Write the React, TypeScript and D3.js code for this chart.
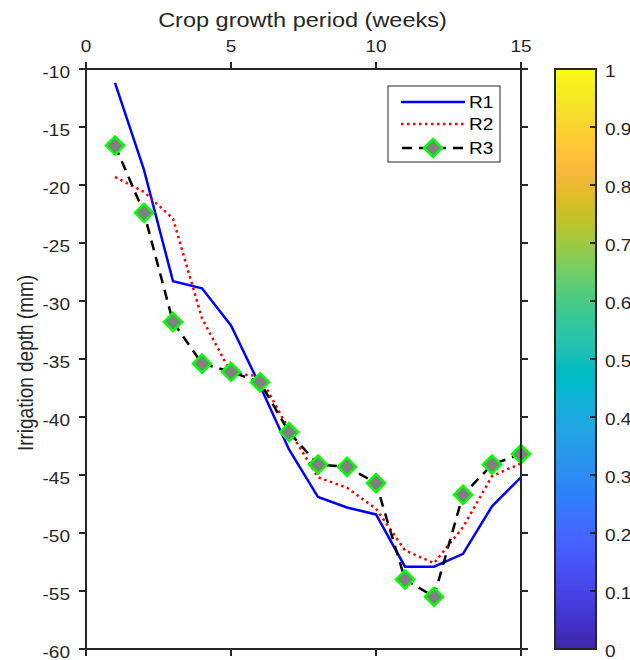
import React from "react";
import * as d3 from "d3";

const weeks = [1, 2, 3, 4, 5, 6, 7, 8, 9, 10, 11, 12, 13, 14, 15];
const r1 = [-11.2, -18.7, -28.3, -28.9, -32.1, -37.3, -42.8, -46.9, -47.8, -48.4, -52.9, -52.9, -51.8, -47.7, -45.2];
const r2 = [-19.3, -20.6, -22.9, -31.5, -36.2, -36.5, -41.1, -45.2, -46.1, -47.9, -51.5, -52.6, -49.5, -45.1, -44.0];
const r3 = [-16.6, -22.4, -31.8, -35.4, -36.1, -37.0, -41.3, -44.1, -44.3, -45.7, -54.0, -55.5, -46.7, -44.1, -43.2];
const xTicks = [0, 5, 10, 15];
const yTicks = [-10, -15, -20, -25, -30, -35, -40, -45, -50, -55, -60];
const cbTicks = [0, 0.1, 0.2, 0.3, 0.4, 0.5, 0.6, 0.7, 0.8, 0.9, 1];
const seriesNames = ["R1", "R2", "R3"];

const parula: number[][] = [
  [0.2422, 0.1504, 0.6603], [0.2504, 0.165, 0.7076], [0.2578, 0.1818, 0.7511], [0.2647, 0.1978, 0.7952],
  [0.2706, 0.2147, 0.8364], [0.2751, 0.2342, 0.871], [0.2783, 0.2559, 0.8991], [0.2803, 0.2782, 0.9221],
  [0.2813, 0.3006, 0.9414], [0.281, 0.3228, 0.9579], [0.2795, 0.3447, 0.9717], [0.276, 0.3667, 0.9829],
  [0.2699, 0.3892, 0.9906], [0.2602, 0.4123, 0.9952], [0.244, 0.4358, 0.9988], [0.2206, 0.4603, 0.9973],
  [0.1963, 0.4847, 0.9892], [0.1834, 0.5074, 0.9798], [0.1786, 0.5289, 0.9682], [0.1764, 0.5499, 0.952],
  [0.1687, 0.5703, 0.9359], [0.154, 0.5902, 0.9218], [0.146, 0.6091, 0.9079], [0.138, 0.6276, 0.8973],
  [0.1248, 0.6459, 0.8883], [0.1113, 0.6635, 0.8763], [0.0952, 0.6798, 0.8598], [0.0689, 0.6948, 0.8394],
  [0.0297, 0.7082, 0.8163], [0.0036, 0.7203, 0.7917], [0.0067, 0.7312, 0.766], [0.0433, 0.7411, 0.7394],
  [0.0964, 0.75, 0.712], [0.1408, 0.7584, 0.6842], [0.1717, 0.767, 0.6554], [0.1938, 0.7758, 0.6251],
  [0.2161, 0.7843, 0.5923], [0.247, 0.7918, 0.5567], [0.2906, 0.7973, 0.5188], [0.3406, 0.8008, 0.4789],
  [0.3909, 0.8029, 0.4354], [0.4456, 0.8024, 0.3909], [0.5044, 0.7993, 0.348], [0.5616, 0.7942, 0.3045],
  [0.6174, 0.7876, 0.2612], [0.672, 0.7793, 0.2227], [0.7242, 0.7698, 0.191], [0.7738, 0.7598, 0.1646],
  [0.8203, 0.7498, 0.1535], [0.8634, 0.7406, 0.1596], [0.9035, 0.733, 0.1774], [0.9393, 0.7288, 0.21],
  [0.9728, 0.7298, 0.2394], [0.9956, 0.7434, 0.2371], [0.997, 0.7659, 0.2199], [0.9952, 0.7893, 0.2028],
  [0.9892, 0.8136, 0.1885], [0.9786, 0.8386, 0.1766], [0.9676, 0.8639, 0.1643], [0.961, 0.889, 0.1537],
  [0.9597, 0.9135, 0.1423], [0.9628, 0.9373, 0.1265], [0.9691, 0.9606, 0.1064], [0.9769, 0.9839, 0.0805],
];

const FONT = "'Liberation Sans', Arial, Helvetica, sans-serif";
const AX = "#262626";
const SX = 1.12;

function Txt(props: { x: number; y: number; size: number; anchor?: string; dy?: string; fill?: string; children: any }) {
  const { x, y, size, anchor = "start", dy = "0", fill = AX, children } = props;
  return (
    <text transform={`translate(${x},${y}) scale(${SX},1)`} dy={dy} textAnchor={anchor}
      fontFamily={FONT} fontSize={size} fill={fill}>{children}</text>
  );
}

export default function App() {
  const W = 630, H = 660;
  const L = 86, R = 521, T = 69, B = 649;
  const x = d3.scaleLinear().domain([0, 15]).range([L, R]);
  const y = d3.scaleLinear().domain([-60, -10]).range([B, T]);
  const cbL = 555, cbR = 596;
  const cb = d3.scaleLinear().domain([0, 1]).range([B, T]);

  const line = (vals: number[]) =>
    d3.line<number>().x((_, i) => x(weeks[i])).y((v) => y(v))(vals) || "";

  const diamond = (cx: number, cy: number, k = 9) =>
    `M${cx},${cy - k}L${cx + k},${cy}L${cx},${cy + k}L${cx - k},${cy}Z`;

  const tickLen = 7;
  const lgX = 388, lgY = 86, lgW = 112, lgH = 76;
  const rowY = [102, 124, 148];

  return (
    <svg width={W} height={H} style={{ position: "absolute", left: 0, top: 0, background: "#fff" }}>
      <defs>
        <linearGradient id="parula" x1="0" y1="1" x2="0" y2="0">
          {parula.map((c, i) => (
            <stop key={i} offset={i / (parula.length - 1)}
              stopColor={d3.rgb(c[0] * 255, c[1] * 255, c[2] * 255).formatHex()} />
          ))}
        </linearGradient>
        <clipPath id="plotclip"><rect x={L} y={T} width={R - L} height={B - T} /></clipPath>
      </defs>

      {/* series */}
      <g clipPath="url(#plotclip)">
        <path d={line(r1)} fill="none" stroke="#0000ff" strokeWidth={2.5} />
        <path d={line(r2)} fill="none" stroke="#ff0000" strokeWidth={2.5} strokeDasharray="2.5 3.5" />
        <path d={line(r3)} fill="none" stroke="#000" strokeWidth={2.5} strokeDasharray="10 7" />
      </g>
      {r3.map((v, i) => (
        <path key={i} d={diamond(x(weeks[i]), y(v))} fill="#808080" stroke="#00ff00" strokeWidth={2.5} />
      ))}

      {/* axes box */}
      <rect x={L} y={T} width={R - L} height={B - T} fill="none" stroke={AX} strokeWidth={2} />
      {xTicks.map((t) => (
        <g key={"x" + t}>
          <line x1={x(t)} x2={x(t)} y1={T} y2={T - tickLen} stroke={AX} strokeWidth={2} />
          <line x1={x(t)} x2={x(t)} y1={B} y2={B + tickLen} stroke={AX} strokeWidth={2} />
          <Txt x={x(t)} y={T - 17} size={17} anchor="middle">{t}</Txt>
        </g>
      ))}
      {yTicks.map((t) => (
        <g key={"y" + t}>
          <line x1={L} x2={L - tickLen} y1={y(t)} y2={y(t)} stroke={AX} strokeWidth={2} />
          <line x1={R} x2={R + tickLen} y1={y(t)} y2={y(t)} stroke={AX} strokeWidth={2} />
          <Txt x={L - 16} y={y(t)} size={17} anchor="end" dy="0.5em">{t}</Txt>
        </g>
      ))}
      <Txt x={(L + R) / 2 - 1} y={27} size={21} anchor="middle">Crop growth period (weeks)</Txt>
      <text transform={`translate(33,${(T + B) / 2 + 4}) rotate(-90) scale(1,${SX})`} textAnchor="middle"
        fontFamily={FONT} fontSize={19} fill={AX}>
        Irrigation depth (mm)
      </text>

      {/* legend */}
      <rect x={lgX} y={lgY} width={lgW} height={lgH} fill="#fff" stroke={AX} strokeWidth={1} />
      <line x1={401} x2={465} y1={rowY[0]} y2={rowY[0]} stroke="#0000ff" strokeWidth={2.5} />
      <line x1={401} x2={465} y1={rowY[1]} y2={rowY[1]} stroke="#ff0000" strokeWidth={2.5} strokeDasharray="2.5 3.5" />
      <line x1={401} x2={465} y1={rowY[2]} y2={rowY[2]} stroke="#000" strokeWidth={2.5} strokeDasharray="10 7" strokeDashoffset={-1} />
      <path d={diamond(433, rowY[2])} fill="#808080" stroke="#00ff00" strokeWidth={2.5} />
      {seriesNames.map((n, i) => (
        <Txt key={n} x={469} y={rowY[i]} size={17} dy="0.38em" fill="#000">{n}</Txt>
      ))}

      {/* colorbar */}
      <rect x={cbL} y={T} width={cbR - cbL} height={B - T} fill="url(#parula)" />
      <rect x={cbL} y={T} width={cbR - cbL} height={B - T} fill="none" stroke={AX} strokeWidth={2} />
      {cbTicks.map((t) => (
        <g key={"c" + t}>
          {t > 0 && t < 1 && (
            <line x1={cbR} x2={cbR - 6} y1={cb(t)} y2={cb(t)} stroke={AX} strokeWidth={2} />
          )}
          <Txt x={cbR + 9} y={cb(t)} size={17} dy="0.45em">{t}</Txt>
        </g>
      ))}
    </svg>
  );
}
